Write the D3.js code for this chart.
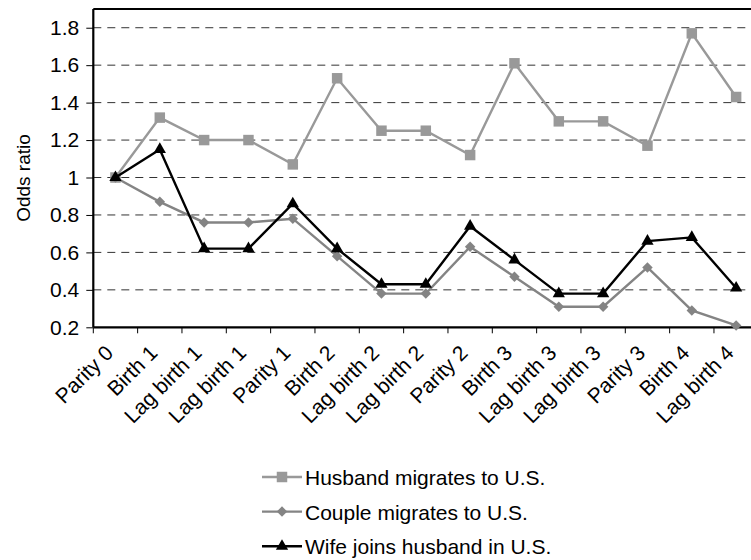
<!DOCTYPE html>
<html>
  <head>
    <meta charset="UTF-8" />
    <title>Odds ratio by parity</title>
    <style>
      body { margin: 0; background: #fff; }
      svg { display: block; font-family: "Liberation Sans", Arial, sans-serif; }
    </style>
  </head>
  <body>
    <svg></svg>
    <script src="https://d3js.org/d3.v7.min.js"></script>
    <script>
      // categories along the x axis (some repeat, so we key by index)
      var categories = ["Parity 0", "Birth 1", "Lag birth 1", "Lag birth 1", "Parity 1",
        "Birth 2", "Lag birth 2", "Lag birth 2", "Parity 2", "Birth 3",
        "Lag birth 3", "Lag birth 3", "Parity 3", "Birth 4", "Lag birth 4"];
      var husband = [1.0, 1.32, 1.20, 1.20, 1.07, 1.53, 1.25, 1.25, 1.12, 1.61, 1.30, 1.30, 1.17, 1.77, 1.43];
      var couple = [1.0, 0.87, 0.76, 0.76, 0.78, 0.58, 0.38, 0.38, 0.63, 0.47, 0.31, 0.31, 0.52, 0.29, 0.21];
      var wife = [1.0, 1.15, 0.62, 0.62, 0.86, 0.62, 0.43, 0.43, 0.74, 0.56, 0.38, 0.38, 0.66, 0.68, 0.41];
      var yTicks = [0.2, 0.4, 0.6, 0.8, 1, 1.2, 1.4, 1.6, 1.8];
      var seriesNames = ["Husband migrates to U.S.", "Couple migrates to U.S.", "Wife joins husband in U.S."];

      let width = 751, height = 560;
      let svg = d3.select("svg").attr("width", width).attr("height", height);

      // plot box (right side runs off the page, like the original)
      var plotLeft = 93.3, plotRight = 758.3, plotTop = 9, plotBottom = 327.3;

      var x = d3.scaleBand().domain(d3.range(categories.length)).range([plotLeft, plotRight]).padding(0);
      var y = d3.scaleLinear().domain([0.2, 1.9]).range([plotBottom, plotTop]);
      var cx = (i) => x(i) + x.bandwidth() / 2;

      // dashed gridlines
      svg.append("g")
        .selectAll("line")
        .data(yTicks.filter((d) => d > 0.2))
        .enter()
        .append("line")
        .attr("x1", plotLeft)
        .attr("x2", plotRight)
        .attr("y1", (d) => y(d))
        .attr("y2", (d) => y(d))
        .attr("stroke", "#333")
        .attr("stroke-width", 1)
        .attr("stroke-dasharray", "8,6");

      // top frame line
      svg.append("line")
        .attr("x1", plotLeft).attr("x2", plotRight)
        .attr("y1", plotTop).attr("y2", plotTop)
        .attr("stroke", "#000").attr("stroke-width", 2);

      // y axis
      var yAxis = d3.axisLeft(y).tickValues(yTicks).tickSize(7).tickPadding(7)
        .tickFormat((d) => String(d));
      var gy = svg.append("g").attr("transform", "translate(" + plotLeft + ",0)").call(yAxis);
      gy.select(".domain").attr("stroke", "#000").attr("stroke-width", 2.2).attr("d", "M0," + plotTop + "V" + plotBottom);
      gy.selectAll(".tick line").attr("stroke", "#000").attr("stroke-width", 1);
      gy.selectAll(".tick text").attr("font-size", "21px").attr("fill", "#000")
        .attr("font-family", "Liberation Sans, Arial, sans-serif");

      // x axis: ticks on category boundaries, labels in the middle
      svg.append("g")
        .selectAll("line")
        .data(d3.range(categories.length))
        .enter()
        .append("line")
        .attr("x1", (i) => x(i))
        .attr("x2", (i) => x(i))
        .attr("y1", plotBottom)
        .attr("y2", plotBottom + 6)
        .attr("stroke", "#000")
        .attr("stroke-width", 1);
      svg.append("line")
        .attr("x1", plotLeft).attr("x2", plotRight)
        .attr("y1", plotBottom).attr("y2", plotBottom)
        .attr("stroke", "#000").attr("stroke-width", 2.2);

      svg.append("g")
        .selectAll("text")
        .data(categories)
        .enter()
        .append("text")
        .attr("transform", (d, i) => "translate(" + (cx(i) - 1) + "," + (plotBottom + 27) + ") rotate(-45)")
        .attr("text-anchor", "end")
        .attr("font-size", "21px")
        .text((d) => d);

      // y title
      svg.append("text")
        .attr("transform", "translate(30,178) rotate(-90)")
        .attr("text-anchor", "middle")
        .attr("font-size", "19px")
        .text("Odds ratio");

      // diamond = square turned 45 degrees
      var styles = [
        { data: husband, color: "#999999", width: 2.4, shape: d3.symbolSquare, size: 110, rot: 0 },
        { data: couple, color: "#848484", width: 2.4, shape: d3.symbolSquare, size: 55, rot: 45 },
        { data: wife, color: "#000", width: 2.4, shape: d3.symbolTriangle, size: 65, rot: 0 },
      ];

      var line = d3.line().x((d, i) => cx(i)).y((d) => y(d));

      styles.forEach(function (s) {
        svg.append("path")
          .attr("d", line(s.data))
          .attr("fill", "none")
          .attr("stroke", s.color)
          .attr("stroke-width", s.width);
        svg.append("g")
          .selectAll("path")
          .data(s.data)
          .enter()
          .append("path")
          .attr("d", d3.symbol().type(s.shape).size(s.size))
          .attr("transform", (d, i) => "translate(" + cx(i) + "," + y(d) + ") rotate(" + s.rot + ")")
          .attr("fill", s.color);
      });

      // legend
      var legend = svg.append("g").attr("transform", "translate(262,477)");
      styles.forEach(function (s, i) {
        var g = legend.append("g").attr("transform", "translate(0," + i * 34.6 + ")");
        g.append("line").attr("x1", 0).attr("x2", 40).attr("stroke", s.color).attr("stroke-width", s.width);
        g.append("path").attr("d", d3.symbol().type(s.shape).size(s.size))
          .attr("transform", "translate(20,0) rotate(" + s.rot + ")").attr("fill", s.color);
        g.append("text").attr("x", 43).attr("y", 8).attr("font-size", "21px").text(seriesNames[i]);
      });
    </script>
  </body>
</html>
